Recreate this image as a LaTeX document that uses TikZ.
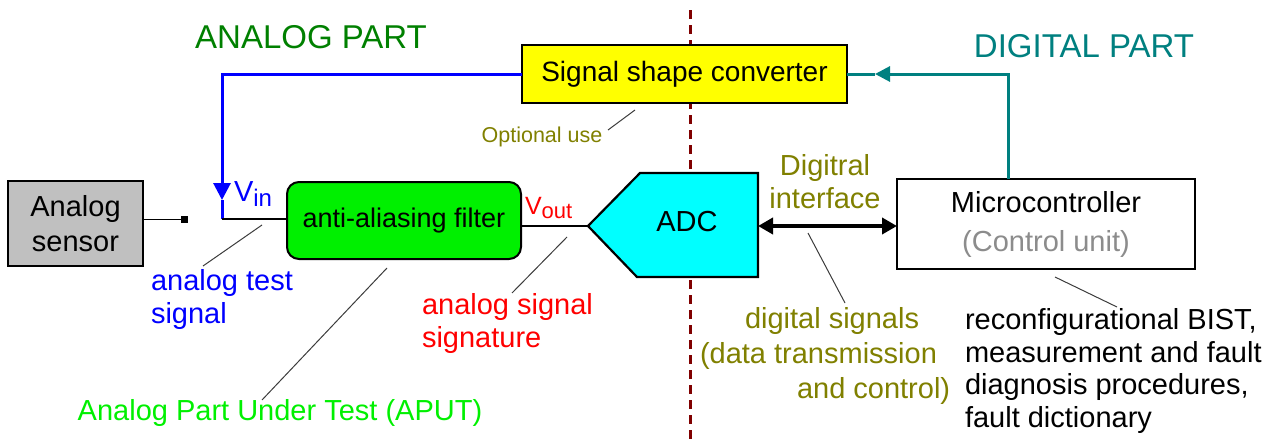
\documentclass[tikz,border=0pt]{standalone}
\usepackage{fontspec}
\setmainfont{Liberation Sans}
\usetikzlibrary{arrows.meta}
\definecolor{agreen}{RGB}{0,128,0}
\definecolor{dteal}{RGB}{0,128,128}
\definecolor{olivec}{RGB}{128,128,0}
\definecolor{limec}{RGB}{0,240,0}
\definecolor{sgray}{RGB}{192,192,192}
\definecolor{dashred}{RGB}{128,0,0}
\definecolor{cgray}{RGB}{140,140,140}
\definecolor{leadc}{RGB}{60,60,60}
\definecolor{adccyan}{RGB}{0,255,255}
\definecolor{ylw}{RGB}{255,255,0}
\newcommand{\myfs}[2]{\fontsize{#1}{#2}\selectfont}
\begin{document}
\begin{tikzpicture}[x=1pt,y=-1pt,
  every node/.style={inner sep=0pt, outer sep=0pt},
  box/.style={draw=black, line width=2pt, align=center, font=\myfs{29}{35}},
  lbl/.style={align=left, font=\myfs{29}{33}},
  leader/.style={draw=leadc, line width=1pt},
  wire/.style={draw=black, line width=1.5pt}]
\useasboundingbox (0,0) rectangle (1276,439);

% divider
\draw[dashred, line width=3pt, dash pattern=on 9pt off 6pt] (690,10) -- (690,439);

% headers
\node[text=agreen, font=\myfs{33}{33}] (hA) at (311,37) {ANALOG PART};
\node[text=dteal, font=\myfs{33}{33}] (hD) at (1084,46) {DIGITAL PART};

% blocks
\node[box, fill=sgray, minimum width=135pt, minimum height=85pt] (sensor) at (75.5,223.5) {Analog\\sensor};
\node[box, fill=limec, rounded corners=12pt, minimum width=234pt, minimum height=77pt, font=\myfs{27}{33}] (filter) at (404,220.5) {anti-aliasing filter};
\node[box, fill=ylw, minimum width=325pt, minimum height=58pt, font=\myfs{28}{33}] (ssc) at (684.5,74) {Signal shape converter};
\node[box, fill=white, minimum width=298pt, minimum height=90pt, font=\myfs{29}{39}] (mc) at (1046,224) {Microcontroller\\\textcolor{cgray}{(Control unit)}};

% ADC pentagon
\draw[line width=2.2pt, fill=adccyan] (588,226) -- (640,173) -- (758,173) -- (758,277) -- (637,277) -- cycle;
\node[font=\myfs{29}{33}] (adc) at (687,222) {ADC};
\coordinate (adcw) at (588,226);
\coordinate (adce) at (758,226);

% small terminal
\node[fill=black, minimum size=7pt] (sq) at (184.5,219.5) {};
\coordinate (vin) at (222,219);
\coordinate (barr) at (222,200);
\coordinate (tc) at (1008,74);
\coordinate (tarr) at (875,74);

% connectors
\draw[wire] (sensor.east |- sq) -- (sq.west);
\draw[blue, line width=3pt, -{Triangle[length=17pt,width=17pt]}] (ssc.west) -| (barr);
\draw[blue, line width=3pt] (barr) -- (vin);
\draw[wire] (vin) -- (vin -| filter.west);
\draw[wire] (adcw -| filter.east) -- (adcw);
\draw[line width=4pt, {Triangle[length=15pt,width=16pt]}-{Triangle[length=15pt,width=16pt]}] (adce) -- (adce -| mc.west);
\draw[dteal, line width=3pt, -{Triangle[length=15pt,width=15pt]}] (mc.north -| tc) -- (tc) -- (tarr);
\draw[dteal, line width=3pt] (tarr) -- (ssc.east);

% labels
\node[text=blue, anchor=west, font=\myfs{29}{29}] (vinl) at (234,194) {V\raisebox{-5pt}{\myfs{24}{24}in}};
\node[text=red, anchor=west, font=\myfs{25}{25}] (voutl) at (525,208) {V\raisebox{-4pt}{\myfs{22}{22}out}};
\node[text=olivec, font=\myfs{21.5}{22}] (opt) at (542,137) {Optional use};
\node[text=olivec, align=center, font=\myfs{29}{33}] (dif) at (825,182) {Digitral\\interface};
\node[lbl, text=blue, anchor=west] (ats) at (151,299) {analog test\\signal};
\node[lbl, text=red, anchor=west] (ass) at (422,323) {analog signal\\signature};
\node[text=limec, font=\myfs{29}{33}] (aput) at (280,413) {Analog Part Under Test (APUT)};
\node[text=olivec, anchor=west, align=left, font=\myfs{29}{35}] (dsig) at (700,356) {\hspace*{45pt}digital signals\\(data transmission\\\hspace*{97pt}and control)};
\node[anchor=west, align=left, font=\myfs{29}{32.5}] (rtxt) at (965,371) {reconfigurational BIST,\\measurement and fault\\diagnosis procedures,\\fault dictionary};

% leader lines
\coordinate (l1a) at (635,110); \coordinate (l1b) at (608,130);
\coordinate (l2a) at (262,225); \coordinate (l2b) at (203,266);
\coordinate (l3a) at (387,268); \coordinate (l3b) at (262,400);
\coordinate (l4a) at (567,237); \coordinate (l4b) at (512,293);
\coordinate (l5a) at (808,233); \coordinate (l5b) at (845,303);
\coordinate (l6a) at (1055,277); \coordinate (l6b) at (1117,307);
\draw[leader] (l1a) -- (l1b);
\draw[leader] (l2a) -- (l2b);
\draw[leader] (l3a) -- (l3b);
\draw[leader] (l4a) -- (l4b);
\draw[leader] (l5a) -- (l5b);
\draw[leader] (l6a) -- (l6b);
\end{tikzpicture}
\end{document}
